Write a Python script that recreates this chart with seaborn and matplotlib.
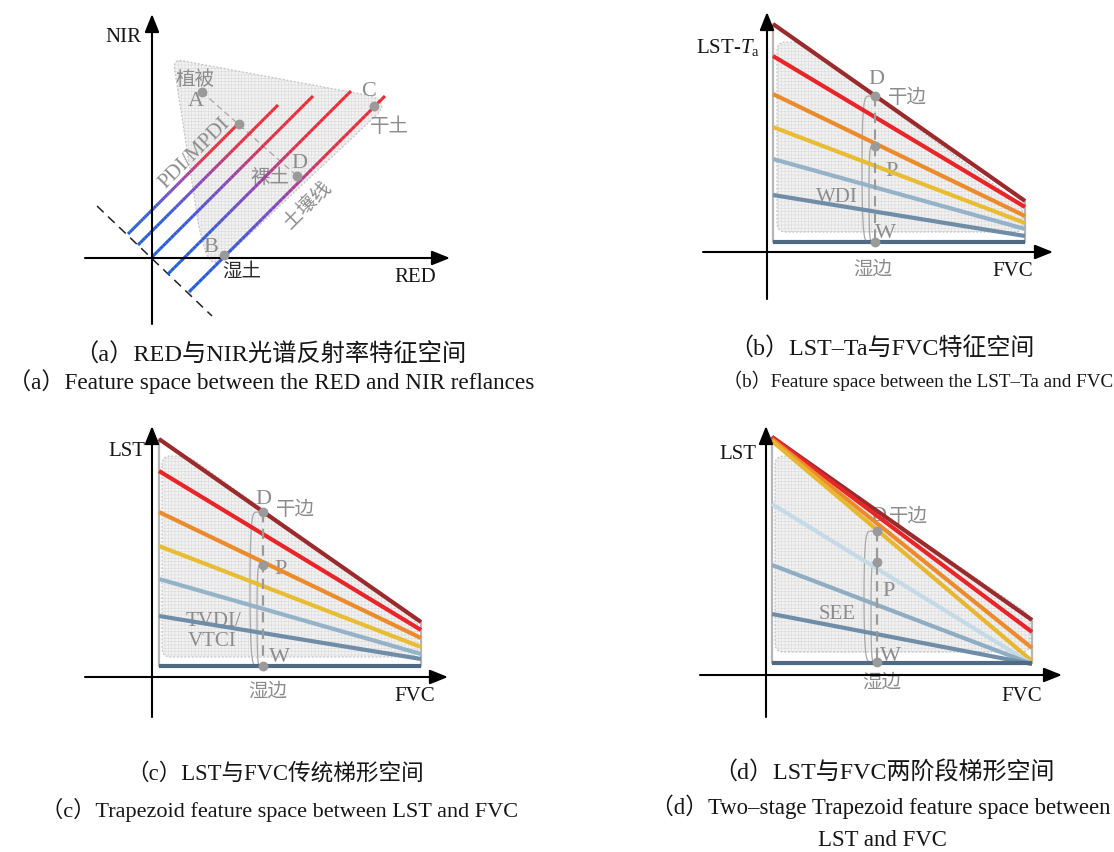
import numpy as np
import pandas as pd
import matplotlib
matplotlib.use("Agg")
import matplotlib.pyplot as plt
import seaborn as sns
from matplotlib.collections import LineCollection
from matplotlib.colors import LinearSegmentedColormap
from matplotlib.patches import Polygon

# ---------------- data ----------------
# (a) RED-NIR feature space: parallel iso-lines  NIR = RED + offset
a_start_x = [-24, -14, 0, 16, 37]
a_end_x = [86, 126, 161, 199, 233]
a_offset = [48, 27, 1, -32, -71]
a_point_x = [50, 87, 145, 222, 72]
a_point_y = [166, 134, 82, 152, 3]
a_region_x = [21, 225, 232, 66, 56, 47]
a_region_y = [199, 161, 150, -6, -2, 30]
a_perp_x = [-55, 60]
a_perp_y = [52, -58]

# (b) LST-Ta vs FVC
b_x = [6, 258]
b_start = [228, 196, 158, 125, 93, 57, 10]
b_end = [51, 45, 36, 29, 23, 16, 10]
b_mid_x = 108
b_DPW = [156, 106, 10]
b_region_x = [10, 34, 256, 256, 10]
b_region_y = [210, 210, 46, 20, 20]

# (c) LST vs FVC, traditional trapezoid
c_x = [7, 269]
c_start = [238, 206, 165, 131, 98, 61, 11]
c_end = [55, 47, 39, 30, 23, 18, 11]
c_mid_x = 111
c_DPW = [165, 112, 11]
c_region_x = [10, 36, 266, 266, 10]
c_region_y = [221, 221, 57, 20, 20]

# (d) LST vs FVC, two-stage trapezoid
d_x = [6, 266]
d_start = [238, 238, 236, 234, 171, 110, 61, 12]
d_end = [55, 43, 27, 14, 11, 11, 11, 12]
d_mid_x = 111
d_DPW = [144, 113, 13]
d_region_x = [9, 30, 264, 264, 9]
d_region_y = [219, 219, 60, 23, 23]

cols7 = ["#9b2a2c", "#e8262a", "#ec8b2c", "#e9bd33", "#95b3c8", "#6f8da7", "#4f6a84"]
cols8 = ["#9b2a2c", "#e8262a", "#ec8b2c", "#e8b732", "#c4dbe7", "#8eadc2", "#6f8da7", "#4f6a84"]

# ---------------- setup ----------------
sns.set_theme(style="white")
plt.rcParams["font.family"] = ["Liberation Serif", "Noto Sans CJK SC"]
plt.rcParams["mathtext.fontset"] = "custom"
plt.rcParams["mathtext.rm"] = "Liberation Serif"
plt.rcParams["mathtext.it"] = "Liberation Serif:italic"
plt.rcParams["hatch.linewidth"] = 0.45

W, H = 1114, 853
fig = plt.figure(figsize=(W / 100, H / 100), dpi=100)
fig.patch.set_facecolor("white")

GRAY = "#8c8c8c"
BLACK = "#161616"


def panel(x0, x1, y0, y1, ox, oy):
    ax = fig.add_axes([x0 / W, 1 - y1 / H, (x1 - x0) / W, (y1 - y0) / H])
    ax.set_xlim(x0 - ox, x1 - ox)
    ax.set_ylim(oy - y1, oy - y0)
    ax.axis("off")
    ax._o = (ox, oy)
    return ax


def lab(ax, px, py, s, color=GRAY, size=16, **kw):
    ox, oy = ax._o
    ax.text(px - ox, oy - py, s, color=color, fontsize=size, ha="center",
            va="center", **kw)


def axes_arrows(ax, xmin, xmax, ymin, ymax):
    ap = dict(arrowstyle="-|>,head_length=0.55,head_width=0.22", color="black",
              lw=1.5, mutation_scale=20, shrinkA=0, shrinkB=0)
    ax.annotate("", xy=(xmax, 0), xytext=(xmin, 0), arrowprops=ap, zorder=5)
    ax.annotate("", xy=(0, ymax), xytext=(0, ymin), arrowprops=ap, zorder=5)


def rounded(xs, ys, r=9, n=8):
    pts = np.column_stack([xs, ys]).astype(float)
    out = []
    m = len(pts)
    for i in range(m):
        p0, p1, p2 = pts[i - 1], pts[i], pts[(i + 1) % m]
        v1 = p0 - p1
        v2 = p2 - p1
        r1 = min(r, np.linalg.norm(v1) / 2)
        r2 = min(r, np.linalg.norm(v2) / 2)
        a = p1 + v1 / np.linalg.norm(v1) * r1
        b = p1 + v2 / np.linalg.norm(v2) * r2
        t = np.linspace(0, 1, n)[:, None]
        out.append((1 - t) ** 2 * a + 2 * (1 - t) * t * p1 + t ** 2 * b)
    return np.vstack(out)


def region(ax, xs, ys, r=9):
    verts = rounded(xs, ys, r)
    ax.add_patch(Polygon(verts, closed=True, facecolor="#f2f2f2",
                         edgecolor="#dcdcdc", lw=0, hatch="+++++", zorder=1))
    ax.add_patch(Polygon(verts, closed=True, facecolor="none",
                         edgecolor="#c4c4c4", lw=0.9, ls=(0, (1.5, 1.5)), zorder=1.5))


def bracket(ax, xr, ytop, ybot, depth):
    t = np.linspace(0, np.pi, 80)
    x = xr - depth * np.sin(t) ** 0.22
    y = (ytop + ybot) / 2 + (ytop - ybot) / 2 * np.cos(t)
    ax.plot(x, y, color="#a8a8a8", lw=0.9, zorder=3)


def trapezoid_panel(ax, xs, starts, ends, cols, mid_x, dpw, rxs, rys):
    region(ax, rxs, rys)
    ax.plot([xs[0], xs[0]], [ends[-1], starts[0]], color="#b5b5b5", lw=1.6, zorder=2)
    ax.plot([xs[1], xs[1]], [ends[-1], ends[0]], color="#b5b5b5", lw=1.6, zorder=2)
    n = len(starts)
    df = pd.DataFrame({
        "x": np.tile(xs, n),
        "y": np.ravel(np.column_stack([starts, ends])),
        "s": np.repeat([f"s{i}" for i in range(n)], 2),
    })
    sns.lineplot(data=df, x="x", y="y", hue="s", palette=cols,
                 hue_order=[f"s{i}" for i in range(n)], lw=3.0, legend=False,
                 ax=ax, sort=False, estimator=None, zorder=4,
                 solid_capstyle="butt")
    ax.plot([mid_x, mid_x], [dpw[0], dpw[2]], color="#9a9a9a", lw=1.5,
            ls=(0, (5, 3)), zorder=5)
    bracket(ax, mid_x, dpw[0], dpw[2], 13)
    bracket(ax, mid_x, dpw[1], dpw[2], 6)
    ax.scatter([mid_x] * 3, dpw, s=50, color="#9a9a9a", zorder=6, linewidths=0)


# ---------------- panel (a) ----------------
axa = panel(75, 465, 5, 330, 152, 259)
region(axa, a_region_x, a_region_y, r=10)
cmap = LinearSegmentedColormap.from_list(
    "br", [(0, "#1f5fd8"), (0.22, "#3a5ad6"), (0.45, "#8648c0"), (0.7, "#e0304a"), (1, "#ee2a30")])
for sx, ex, off in zip(a_start_x, a_end_x, a_offset):
    xx = np.linspace(sx, ex, 60)
    yy = xx + off
    segs = np.stack([np.column_stack([xx[:-1], yy[:-1]]), np.column_stack([xx[1:], yy[1:]])], axis=1)
    lc = LineCollection(segs, colors=cmap(np.linspace(0, 1, len(segs))), lw=2.2,
                        zorder=4, capstyle="butt")
    axa.add_collection(lc)
axa.plot(a_perp_x, a_perp_y, color="#222222", lw=1.1, ls=(0, (6, 4)), zorder=3)
axa.plot([a_point_x[0], a_point_x[2]], [a_point_y[0], a_point_y[2]],
         color="#a8a8a8", lw=0.9, ls=(0, (5, 3)), zorder=3)
axa.scatter(a_point_x, a_point_y, s=50, color="#9a9a9a", zorder=6, linewidths=0)
axes_arrows(axa, -67, 298, -66, 244)
lab(axa, 123, 37, "NIR", BLACK, size=15)
lab(axa, 415, 278, "RED", BLACK, size=15)
lab(axa, 195, 80, "植被", size=14)
lab(axa, 196, 102, "A")
lab(axa, 195, 153, "PDI/MPDI", size=15, rotation=45, rotation_mode="anchor")
lab(axa, 369, 92, "C")
lab(axa, 389, 127, "干土", size=14)
lab(axa, 299, 163, "D")
lab(axa, 270, 178, "裸土", size=14)
lab(axa, 307, 205, "土壤线", size=14, rotation=45, rotation_mode="anchor")
lab(axa, 211, 248, "B")
lab(axa, 242, 272, "湿土", "#2a2a2a", size=14)

# ---------------- panel (b) ----------------
axb = panel(695, 1075, 5, 305, 767, 253)
trapezoid_panel(axb, b_x, b_start, b_end, cols7, b_mid_x, b_DPW, b_region_x, b_region_y)
axes_arrows(axb, -64, 286, -47, 240)
lab(axb, 728, 48, r"LST-$T_{\rm a}$", BLACK, size=15)
lab(axb, 876, 80, "D")
lab(axb, 907, 98, "干边", size=14)
lab(axb, 892, 172, "P")
lab(axb, 837, 197, "WDI", size=15)
lab(axb, 885, 233, "W")
lab(axb, 873, 270, "湿边", size=14)
lab(axb, 1013, 271, "FVC", BLACK, size=15)

# ---------------- panel (c) ----------------
axc = panel(75, 460, 420, 722, 152, 678)
trapezoid_panel(axc, c_x, c_start, c_end, cols7, c_mid_x, c_DPW, c_region_x, c_region_y)
axes_arrows(axc, -67, 296, -40, 251)
lab(axc, 127, 452, "LST", BLACK, size=15)
lab(axc, 263, 500, "D")
lab(axc, 295, 510, "干边", size=14)
lab(axc, 281, 570, "P")
lab(axc, 214, 622, "TVDI/", size=15)
lab(axc, 212, 642, "VTCI", size=15)
lab(axc, 279, 658, "W")
lab(axc, 268, 692, "湿边", size=14)
lab(axc, 415, 697, "FVC", BLACK, size=15)

# ---------------- panel (d) ----------------
axd = panel(690, 1075, 420, 722, 766, 676)
trapezoid_panel(axd, d_x, d_start, d_end, cols8, d_mid_x, d_DPW, d_region_x, d_region_y)
axes_arrows(axd, -66, 296, -42, 249)
lab(axd, 738, 455, "LST", BLACK, size=15)
lab(axd, 878, 517, "D")
lab(axd, 908, 517, "干边", size=14)
lab(axd, 889, 592, "P")
lab(axd, 837, 615, "SEE", size=15)
lab(axd, 890, 657, "W")
lab(axd, 882, 683, "湿边", size=14)
lab(axd, 1022, 697, "FVC", BLACK, size=15)


# ---------------- captions ----------------
def cap(px, py, s, size):
    fig.text(px / W, 1 - py / H, s, ha="center", va="center", fontsize=size, color=BLACK)


cap(270, 355, "（a）RED与NIR光谱反射率特征空间", 17.5)
cap(271, 382, "（a）Feature space between the RED and NIR reflances", 16.7)
cap(882, 348, "（b）LST–Ta与FVC特征空间", 17.3)
cap(918, 381, "（b）Feature space between the LST–Ta and FVC", 13.8)
cap(275, 774, "（c）LST与FVC传统梯形空间", 16.3)
cap(280, 810, "（c）Trapezoid feature space between LST and FVC", 16)
cap(884, 773, "（d）LST与FVC两阶段梯形空间", 17.3)
cap(881, 807, "（d）Two–stage Trapezoid feature space between", 16.4)
cap(882, 841, "LST and FVC", 16.4)

fig.savefig("out.png", dpi=100, facecolor="white")
